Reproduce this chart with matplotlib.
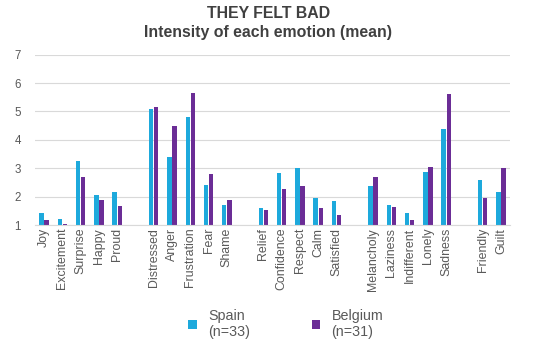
import numpy as np
import matplotlib.pyplot as plt

plt.rcParams['font.family'] = ['Liberation Sans', 'DejaVu Sans']

# emotions, in groups (a blank slot between groups)
emotions = ['Joy', 'Excitement', 'Surprise', 'Happy', 'Proud',
            'Distressed', 'Anger', 'Frustration', 'Fear', 'Shame',
            'Relief', 'Confidence', 'Respect', 'Calm', 'Satisfied',
            'Melancholy', 'Laziness', 'Indifferent', 'Lonely', 'Sadness',
            'Friendly', 'Guilt']
group_sizes = [5, 5, 5, 5, 2]

spain = [1.41, 1.21, 3.26, 2.06, 2.16,
         5.08, 3.41, 4.81, 2.41, 1.70,
         1.60, 2.82, 3.00, 1.95, 1.85,
         2.37, 1.70, 1.42, 2.87, 4.38,
         2.58, 2.16]
belgium = [1.18, 1.05, 2.70, 1.88, 1.68,
           5.17, 4.50, 5.66, 2.80, 1.88,
           1.53, 2.26, 2.37, 1.60, 1.35,
           2.69, 1.63, 1.18, 3.04, 5.61,
           1.95, 3.00]

y_ticks = [1, 2, 3, 4, 5, 6, 7]

# x slot of each emotion, skipping one slot after every group
pos = []
slot = 0
for n in group_sizes:
    pos.extend(range(slot, slot + n))
    slot += n + 1
pos = np.array(pos)

fig = plt.figure(figsize=(5.37, 3.5), dpi=100)
ax = fig.add_axes([0.065, 0.357, 0.885, 0.487])

w = 0.24
ax.bar(pos - 0.14, np.array(spain) - 1, w, bottom=1, color='#1DA9DC', label='Spain\n(n=33)')
ax.bar(pos + 0.14, np.array(belgium) - 1, w, bottom=1, color='#6B2D96', label='Belgium\n(n=31)')

ax.set_ylim(1, 7)
ax.set_xlim(-0.5, pos[-1] + 0.5)
ax.set_yticks(y_ticks)
ax.set_xticks(pos)
ax.set_xticklabels(emotions, rotation=90, fontsize=8.9, color='#595959')
ax.tick_params(axis='y', labelsize=8.3, colors='#595959', length=0, pad=10)
ax.tick_params(axis='x', length=0, pad=2)

ax.grid(axis='y', color='#D9D9D9', linewidth=0.8)
ax.set_axisbelow(True)
for s in ['top', 'right', 'left']:
    ax.spines[s].set_visible(False)
ax.spines['bottom'].set_color('#D9D9D9')

fig.text(0.5, 0.962, 'THEY FELT BAD', ha='center', va='center',
         fontsize=11.4, fontweight='bold', color='#404040')
fig.text(0.5, 0.908, 'Intensity of each emotion (mean)', ha='center', va='center',
         fontsize=11.4, fontweight='bold', color='#404040')

fig.legend(loc='lower center', bbox_to_anchor=(0.532, -0.005), ncol=2, frameon=False,
           fontsize=10.3, labelcolor='#595959', handlelength=0.6, handleheight=0.6,
           columnspacing=4.3, handletextpad=0.8, labelspacing=0.3)

fig.savefig('out.png', dpi=100)
